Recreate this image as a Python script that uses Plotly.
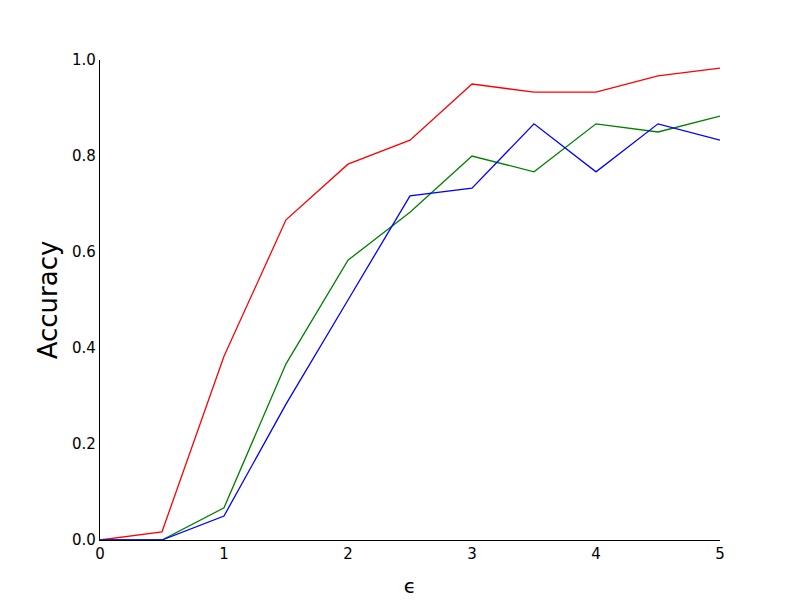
import plotly.graph_objects as go

eps = [0, 0.5, 1, 1.5, 2, 2.5, 3, 3.5, 4, 4.5, 5]
acc_red = [0.0, 0.017, 0.383, 0.667, 0.783, 0.833, 0.95, 0.933, 0.933, 0.967, 0.983]
acc_green = [0.0, 0.0, 0.067, 0.367, 0.583, 0.683, 0.8, 0.767, 0.867, 0.85, 0.883]
acc_blue = [0.0, 0.0, 0.05, 0.283, 0.5, 0.717, 0.733, 0.867, 0.767, 0.867, 0.833]

fig = go.Figure()
for ys, color in [(acc_red, "red"), (acc_green, "green"), (acc_blue, "blue")]:
    fig.add_trace(go.Scatter(x=eps, y=ys, mode="lines",
                             line=dict(color=color, width=1.3), showlegend=False))

# the page body adds an 8px offset, so margins are shifted to compensate
fig.update_layout(
    width=800, height=600,
    margin=dict(l=92, r=88, t=52, b=68),
    paper_bgcolor="white", plot_bgcolor="white",
    font=dict(family="DejaVu Sans", size=15, color="black"),
)
fig.update_xaxes(
    range=[0, 5], tickvals=[0, 1, 2, 3, 4, 5], ticks="",
    showgrid=False, zeroline=False, showline=True, linecolor="black", linewidth=1.2,
    title=dict(text="ϵ", font=dict(size=20), standoff=16),
)
fig.update_yaxes(
    range=[0, 1], tickvals=[0, 0.2, 0.4, 0.6, 0.8, 1.0],
    ticktext=["0.0", "0.2", "0.4", "0.6", "0.8", "1.0"], ticks="",
    showgrid=False, zeroline=False, showline=True, linecolor="black", linewidth=1.2,
    title=dict(text="Accuracy", font=dict(size=26), standoff=6),
)

fig.write_html("out.html")
